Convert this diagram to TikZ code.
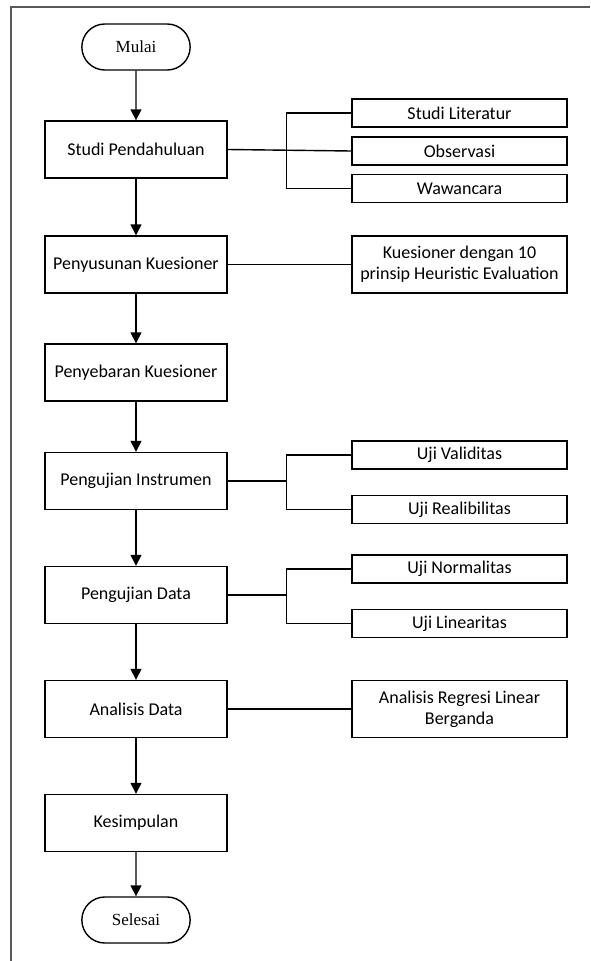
\documentclass[tikz,border=0pt]{standalone}
\usepackage{fontspec}
\setmainfont{Carlito}
\newfontfamily\termfont{Liberation Serif}
\usetikzlibrary{positioning, arrows.meta, shapes.misc}

\tikzset{
  proses/.style={draw, line width=1.4pt, minimum width=182pt, minimum height=57pt, inner sep=2pt, align=center},
  cabang/.style={draw, line width=1.4pt, minimum width=215pt, minimum height=28pt, inner sep=1pt, align=center},
  cabang tinggi/.style={cabang, minimum height=57pt},
  terminal/.style={draw, line width=1.4pt, rounded rectangle, minimum width=115pt, minimum height=46pt, font=\termfont\fontsize{17}{20}\selectfont},
  panah/.style={-{Triangle[length=11pt,width=11pt]}, line width=1.4pt},
  garis/.style={line width=1.4pt},
}

\begin{document}
\begin{tikzpicture}[x=1pt, y=-1pt, font=\fontsize{18}{21}\selectfont]
\useasboundingbox (0,0) rectangle (590,961);
% bingkai
\draw[line width=1.8pt, black!65] (11,961) -- (11,7) -- (590,7);

% alur utama
\node[terminal] (mulai) at (136,47) {Mulai};
\node[proses] (studi) at (136,149.5) {Studi Pendahuluan};
\node[proses] (susun) at (136,264.5) {Penyusunan Kuesioner};
\node[proses] (sebar) at (136,372.5) {Penyebaran Kuesioner};
\node[proses] (instrumen) at (136,481) {Pengujian Instrumen};
\node[proses] (ujidata) at (136,595) {Pengujian Data};
\node[proses] (analisis) at (136,709) {Analisis Data};
\node[proses] (simpulan) at (136,823) {Kesimpulan};
\node[terminal] (selesai) at (136,920) {Selesai};

% cabang kanan
\node[cabang] (literatur) at (459.5,113) {Studi Literatur};
\node[cabang] (observasi) at (459.5,151) {Observasi};
\node[cabang] (wawancara) at (459.5,188.5) {Wawancara};
\node[cabang tinggi] (kuesioner) at (459.5,264.5) {Kuesioner dengan 10\\prinsip Heuristic Evaluation};
\node[cabang] (validitas) at (459.5,455) {Uji Validitas};
\node[cabang] (realibilitas) at (459.5,509.5) {Uji Realibilitas};
\node[cabang] (normalitas) at (459.5,569) {Uji Normalitas};
\node[cabang] (linearitas) at (459.5,623.5) {Uji Linearitas};
\node[cabang tinggi] (regresi) at (459.5,709) {Analisis Regresi Linear\\Berganda};

% panah
\draw[panah] (mulai) -- (studi);
\draw[panah] (studi) -- (susun);
\draw[panah] (susun) -- (sebar);
\draw[panah] (sebar) -- (instrumen);
\draw[panah] (instrumen) -- (ujidata);
\draw[panah] (ujidata) -- (analisis);
\draw[panah] (analisis) -- (simpulan);
\draw[panah] (simpulan) -- (selesai);

% garis cabang
\draw[garis] (literatur.west) -- ++(-65,0) coordinate (k1) |- (wawancara.west);
\draw[garis] (studi.east) -- (observasi.west);
\draw[garis] (susun.east) -- (kuesioner.west);
\draw[garis] (validitas.west) -- ++(-65,0) coordinate (k2) |- (realibilitas.west);
\draw[garis] (instrumen.east) -- (instrumen.east -| k2);
\draw[garis] (normalitas.west) -- ++(-65,0) coordinate (k3) |- (linearitas.west);
\draw[garis] (ujidata.east) -- (ujidata.east -| k3);
\draw[garis] (analisis.east) -- (regresi.west);
\end{tikzpicture}
\end{document}
